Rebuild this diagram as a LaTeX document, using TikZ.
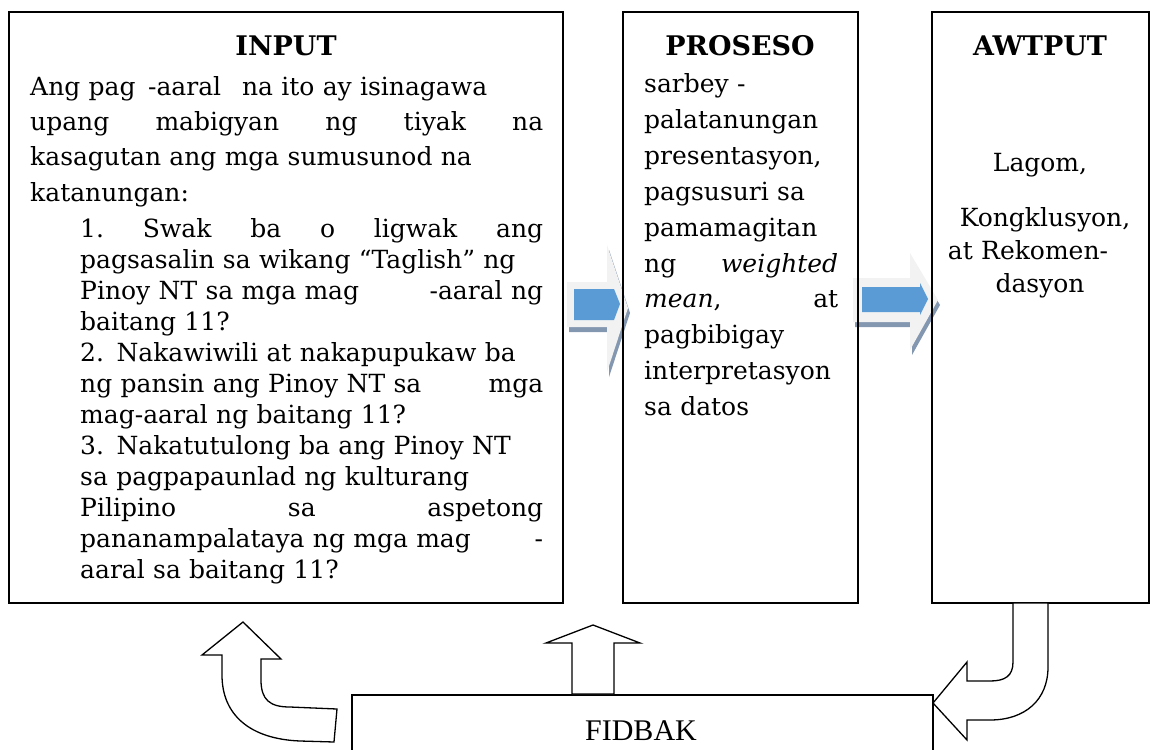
\documentclass[tikz,border=0pt]{standalone}
\usepackage{fontspec}
\setmainfont{DejaVu Serif}
\newfontfamily\fidbakfont{Liberation Serif}
\usetikzlibrary{backgrounds}
\definecolor{arrowgray}{RGB}{242,242,242}
\definecolor{arrowblue}{RGB}{91,155,213}
\definecolor{arrowshade}{RGB}{132,151,176}

\begin{document}
\begin{tikzpicture}[x=1pt, y=-1pt,
    panel/.style={rectangle, draw, line width=1.6pt, inner sep=0pt},
    heading/.style={anchor=base, inner sep=0pt, font=\fontsize{27}{30}\selectfont\bfseries},
    bodytext/.style={anchor=base west, inner sep=0pt, align=left, font=\fontsize{25}{35}\selectfont},
    listtext/.style={anchor=base west, inner sep=0pt, align=left, font=\fontsize{25}{31}\selectfont},
    outtext/.style={anchor=base, inner sep=0pt, align=center, text width=200pt, font=\fontsize{25}{33}\selectfont},
    feedback/.style={draw, line width=1.3pt, fill=white, line join=miter},
    blockarrow/.style={fill=arrowgray},
    shadearrow/.style={fill=arrowshade},
    bluearrow/.style={fill=arrowblue}
]
    \useasboundingbox (0,0) rectangle (1150,749);
    \clip (0,0) rectangle (1150,749);

    % Boxes
    \node[panel, minimum width=554pt, minimum height=591pt] (input) at (286,307.5) {};
    \node[panel, minimum width=235pt, minimum height=591pt] (proseso) at (740.5,307.5) {};
    \node[panel, minimum width=217pt, minimum height=591pt] (awtput) at (1040.5,307.5) {};
    \node[panel, minimum width=581pt, minimum height=120pt] (fidbak) at (642.5,755) {};

    % Headings
    \node[heading] (inputhead) at (286,56) {INPUT};
    \node[heading] (prosesohead) at (740,56) {PROSESO};
    \node[heading] (awtputhead) at (1040,56) {AWTPUT};

    % Input text
    \node[bodytext, text width=513pt] (intro) at (30,96) {%
        Ang pag\enspace -aaral\enspace\ na ito ay isinagawa\\
        upang\hfill mabigyan\hfill ng\hfill tiyak\hfill na\\
        kasagutan ang mga sumusunod na\\
        katanungan:};
    \node[listtext, text width=463pt] (questions) at (80,237) {%
        1.\hfill Swak\hfill ba\hfill o\hfill ligwak\hfill ang\\
        pagsasalin sa wikang “Taglish” ng\\
        Pinoy NT sa mga mag\hfill -aaral ng\\
        baitang 11?\\
        2. Nakawiwili at nakapupukaw ba\\
        ng pansin ang Pinoy NT sa\hfill mga\\
        mag-aaral ng baitang 11?\\
        3. Nakatutulong ba ang Pinoy NT\\
        sa pagpapaunlad ng kulturang\\
        Pilipino\hfill sa\hfill aspetong\\
        pananampalataya ng mga mag\hfill -\\
        aaral sa baitang 11?};

    % Proseso text
    \node[bodytext, text width=194pt, font=\fontsize{25}{35.8}\selectfont] (method) at (644,93) {%
        sarbey -\\
        palatanungan\\
        presentasyon,\\
        pagsusuri sa\\
        pamamagitan\\
        ng\hfill \textit{weighted}\\
        \textit{mean},\hfill at\\
        pagbibigay\\
        interpretasyon\\
        sa datos};

    % Awtput text
    \node[outtext] (lagom) at (1040,171) {Lagom,};
    \node[outtext] (result) at (1040,226) {\hspace*{10pt}Kongklusyon,\\ \hspace*{-24pt}at Rekomen-\\ dasyon};

    \node[anchor=base, inner sep=0pt, font=\fidbakfont\fontsize{30}{36}\selectfont] (fidbaktext) at (641,740) {FIDBAK};

    % Arrows between the boxes
    \begin{scope}[on background layer]
        \fill[shadearrow] (569,287) -- (609,287) -- (609,250) -- (630,313) -- (609,377) -- (609,332) -- (569,332) -- cycle;
        \fill[blockarrow] (567,282) -- (607,282) -- (607,245) -- (628,308) -- (607,372) -- (607,327) -- (567,327) -- cycle;
        \fill[bluearrow] (574,289) -- (614,289) -- (620,304) -- (614,320) -- (574,320) -- cycle;

        \fill[shadearrow] (855,283) -- (912,283) -- (912,258) -- (940,305) -- (912,355) -- (912,327) -- (855,327) -- cycle;
        \fill[blockarrow] (853,278) -- (910,278) -- (910,253) -- (938,300) -- (910,350) -- (910,322) -- (853,322) -- cycle;
        \fill[bluearrow] (862,287) -- (920,287) -- (920,283) -- (928,299) -- (920,315) -- (920,312) -- (862,312) -- cycle;
    \end{scope}

    % Feedback arrows
    \draw[feedback] (1013,603) -- (1013,662) .. controls (1013,676) and (1005,681) .. (990,681)
        -- (967,681) -- (967,662) -- (933,703) -- (967,740) -- (967,720) -- (990,720)
        .. controls (1025,720) and (1048,700) .. (1048,667) -- (1048,603) -- cycle;
    \draw[feedback] (593,625) -- (640,643) -- (614,643) -- (614,694) -- (572,694) -- (572,643) -- (546,643) -- cycle;
    \draw[feedback] (243,622) -- (281,659) -- (261,659) -- (261,680) .. controls (261,700) and (270,707) .. (290,707)
        -- (337,709) -- (334,742) -- (300,741) .. controls (250,739) and (222,715) .. (222,675) -- (222,655) -- (202,655) -- cycle;
\end{tikzpicture}
\end{document}
